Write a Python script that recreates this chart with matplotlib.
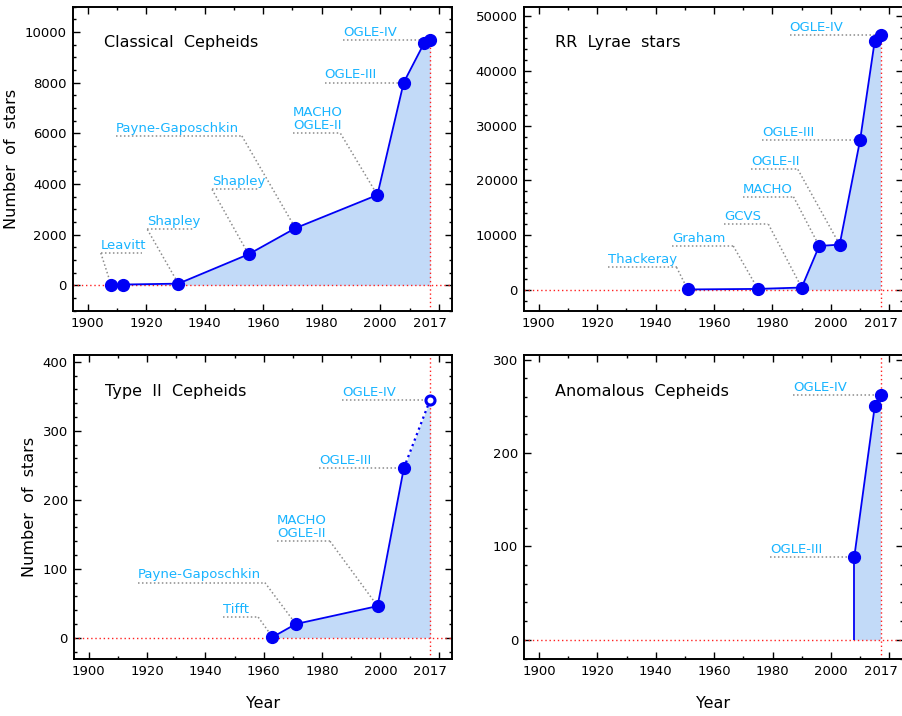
import matplotlib
matplotlib.use('Agg')
import matplotlib.pyplot as plt
from matplotlib.ticker import MultipleLocator
import matplotlib.transforms as mtransforms

# ---------------- data ----------------
cc_years = [1908, 1912, 1931, 1955, 1971, 1999, 2008, 2015, 2017]
cc_counts = [20, 25, 60, 1220, 2250, 3560, 8000, 9560, 9680]
cc_labels = ['Leavitt', 'Shapley', 'Shapley', 'Payne-Gaposchkin',
             'MACHO\nOGLE-II', 'OGLE-III', 'OGLE-IV']
cc_label_pts = [0, 2, 3, 4, 5, 6, 8]

rr_years = [1951, 1975, 1990, 1996, 2003, 2010, 2015, 2017]
rr_counts = [50, 150, 400, 8000, 8250, 27400, 45500, 46500]
rr_labels = ['Thackeray', 'Graham', 'GCVS', 'MACHO', 'OGLE-II', 'OGLE-III', 'OGLE-IV']
rr_label_pts = [0, 1, 2, 3, 4, 5, 7]

t2_years = [1963, 1971, 1999, 2008, 2017]
t2_counts = [1, 20, 46, 246, 345]
t2_labels = ['Tifft', 'Payne-Gaposchkin', 'MACHO\nOGLE-II', 'OGLE-III', 'OGLE-IV']
t2_label_pts = [0, 1, 2, 3, 4]

ac_years = [2008, 2015, 2017]
ac_counts = [89, 250, 262]
ac_labels = ['OGLE-III', 'OGLE-IV']
ac_label_pts = [0, 2]

panel_titles = ['Classical  Cepheids', 'RR  Lyrae  stars', 'Type  II  Cepheids', 'Anomalous  Cepheids']
year_ticks = [1900, 1920, 1940, 1960, 1980, 2000, 2020]
year_ticklabels = ['1900', '1920', '1940', '1960', '1980', '2000', '']
end_year = 2017

# ---------------- layout (leader lines: x0, x1, y, side) ----------------
cc_lead = [(1904.5, 1918.7, 1270, 'left'), (1920.4, 1936.2, 2200, 'left'),
           (1942.5, 1958.7, 3780, 'left'), (1909.7, 1952.7, 5890, 'right'),
           (1970.2, 1986.4, 5990, 'right'), (1981.0, None, None, None),
           (1987.3, None, None, None)]
rr_lead = [(1923.7, 1947.2, 4100, 'right'), (1945.8, 1966.6, 8000, 'right'),
           (1963.4, 1978.6, 12000, 'right'), (1969.8, 1987.2, 17000, 'right'),
           (1972.6, 1988.7, 22000, 'right'), (1976.6, None, None, None),
           (1985.9, None, None, None)]
t2_lead = [(1945.9, 1958.1, 30, 'right'), (1916.9, 1960.4, 80, 'right'),
           (1964.6, 1982.7, 140, 'right'), (1979.1, None, None, None),
           (1986.9, None, None, None)]
ac_lead = [(1979.2, None, None, None), (1987.0, None, None, None)]

W, H = 902, 716
fig = plt.figure(figsize=(W / 100, H / 100), dpi=100)
plt.rcParams['font.family'] = ['DejaVu Sans']

def px_axes(l, r, t, b):
    return fig.add_axes([l / W, 1 - b / H, (r - l) / W, (b - t) / H])

ax1 = px_axes(73, 452, 6.5, 310.5)
ax2 = px_axes(524, 902.5, 6.5, 310.5)
ax3 = px_axes(74, 452, 355, 658.5)
ax4 = px_axes(524.3, 902.5, 355, 658.5)

BLUE = '#0000F5'
FILL = '#C2DAF8'
CYAN = '#18B4FF'
GRAY = '#8C8C8C'
RED = '#FF2020'

def style_axes(ax, ylim, ymajor, yminor):
    ax.set_xlim(1895, 2024.5)
    ax.set_ylim(*ylim)
    ax.set_xticks(year_ticks)
    ax.set_xticklabels(year_ticklabels)
    minor = [1910, 1930, 1950, 1970, 1990, 2010, end_year]
    ax.set_xticks(minor, minor=True)
    ax.set_xticklabels([''] * (len(minor) - 1) + [str(end_year)], minor=True)
    ax.yaxis.set_major_locator(MultipleLocator(ymajor))
    ax.yaxis.set_minor_locator(MultipleLocator(yminor))
    ax.tick_params(which='both', direction='in', top=True, right=True,
                   labelsize=9.5, width=1.0, colors='black')
    ax.tick_params(which='major', length=5)
    ax.tick_params(which='minor', length=2.5)
    ax.tick_params(axis='x', which='both', pad=5)
    ax.tick_params(axis='y', which='both', pad=4.5)
    for s in ax.spines.values():
        s.set_linewidth(1.4)
    # hide the tick marks of the special 2017 label
    t = ax.xaxis.get_minor_ticks()[-1]
    t.tick1line.set_visible(False)
    t.tick2line.set_visible(False)

def leaders(ax, years, counts, labels, pts, lead):
    off = mtransforms.offset_copy(ax.transData, fig=fig, x=0, y=1.2, units='dots')
    for lab, pi, (x0, x1, y, side) in zip(labels, pts, lead):
        px, py = years[pi], counts[pi]
        if x1 is None:
            ax.plot([x0, px], [py, py], color=GRAY, ls=(0, (1, 1.6)), lw=1.1, zorder=2.5)
            yt = py
        else:
            ax.plot([x0, x1], [y, y], color=GRAY, ls=(0, (1, 1.6)), lw=1.1, zorder=2.5)
            xe = x0 if side == 'left' else x1
            ax.plot([xe, px], [y, py], color=GRAY, ls=(0, (1, 1.6)), lw=1.1, zorder=2.5)
            yt = y
        ax.text(x0, yt, lab, transform=off, ha='left', va='bottom', color=CYAN,
                fontsize=9.5, linespacing=1.0, zorder=5)

def base(ax, years, counts, full_vline):
    ax.fill_between(years, counts, 0, color=FILL, lw=0, zorder=1)
    ax.axhline(0, color=RED, ls=(0, (1, 2)), lw=1.0, zorder=2)
    if full_vline:
        ax.axvline(end_year, color=RED, ls=(0, (1, 2)), lw=1.0, zorder=2)
    else:
        ax.vlines(end_year, ax.get_ylim()[0], counts[-1], color=RED,
                  linestyles=[(0, (1, 2))], lw=1.0, zorder=2)

def title(ax, s):
    ax.text(0.082, 0.88, s, transform=ax.transAxes, ha='left', va='center',
            fontsize=11.5, color='black')

# Panel 1
style_axes(ax1, (-1000, 11000), 2000, 500)
base(ax1, cc_years, cc_counts, False)
ax1.plot(cc_years, cc_counts, '-o', color=BLUE, lw=1.3, ms=8.5, zorder=4)
leaders(ax1, cc_years, cc_counts, cc_labels, cc_label_pts, cc_lead)
title(ax1, panel_titles[0])

# Panel 2
style_axes(ax2, (-3800, 51800), 10000, 2000)
base(ax2, rr_years, rr_counts, False)
ax2.plot(rr_years, rr_counts, '-o', color=BLUE, lw=1.3, ms=8.5, zorder=4)
leaders(ax2, rr_years, rr_counts, rr_labels, rr_label_pts, rr_lead)
title(ax2, panel_titles[1])

# Panel 3
style_axes(ax3, (-30, 410), 100, 20)
base(ax3, t2_years, t2_counts, True)
ax3.plot(t2_years[:-1], t2_counts[:-1], '-o', color=BLUE, lw=1.3, ms=8.5, zorder=4)
ax3.plot(t2_years[-2:], t2_counts[-2:], ls=':', color=BLUE, lw=1.6, zorder=4)
ax3.plot(t2_years[-1:], t2_counts[-1:], 'o', color=BLUE, mfc='white', mew=2.2,
         ms=6.5, zorder=4.5)
leaders(ax3, t2_years, t2_counts, t2_labels, t2_label_pts, t2_lead)
title(ax3, panel_titles[2])

# Panel 4
style_axes(ax4, (-20, 305), 100, 20)
base(ax4, ac_years, ac_counts, True)
ax4.vlines(ac_years[0], 0, ac_counts[0], color=BLUE, lw=1.3, zorder=4)
ax4.plot(ac_years, ac_counts, '-o', color=BLUE, lw=1.3, ms=8.5, zorder=4)
leaders(ax4, ac_years, ac_counts, ac_labels, ac_label_pts, ac_lead)
title(ax4, panel_titles[3])

for ax in (ax1, ax3):
    ax.set_ylabel('Number  of  stars', fontsize=11.5, labelpad=4)
for ax in (ax3, ax4):
    ax.set_xlabel('Year', fontsize=11.5, labelpad=13)

fig.savefig('out.png', dpi=100)
